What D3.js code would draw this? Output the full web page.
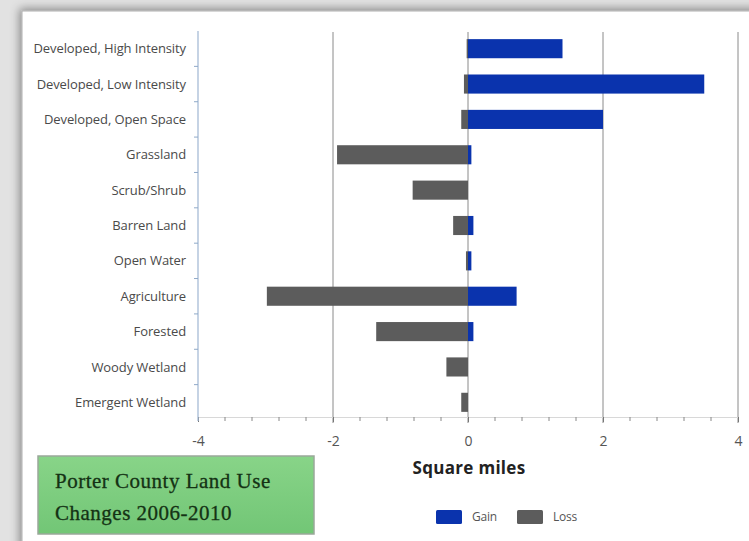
<!DOCTYPE html>
<html>
<head>
<meta charset="utf-8">
<script src="https://cdn.jsdelivr.net/npm/d3@7"></script>
<style>
  html, body { margin: 0; padding: 0; background: #ffffff; }
  svg { display: block; }
</style>
</head>
<body>
<svg id="chart" width="749" height="541"></svg>
<script>
// Land cover classes, top to bottom
const categories = [
  "Developed, High Intensity",
  "Developed, Low Intensity",
  "Developed, Open Space",
  "Grassland",
  "Scrub/Shrub",
  "Barren Land",
  "Open Water",
  "Agriculture",
  "Forested",
  "Woody Wetland",
  "Emergent Wetland"
];
// Square miles gained / lost per class
const gain = [1.4, 3.5, 2.0, 0.05, 0.0, 0.08, 0.05, 0.72, 0.08, 0.0, 0.0];
const loss = [-0.02, -0.06, -0.1, -1.94, -0.82, -0.22, -0.03, -2.98, -1.36, -0.32, -0.1];
const majorTicks = [-4, -2, 0, 2, 4];
const seriesNames = ["Gain", "Loss"];

const W = 749, H = 541;
const svg = d3.select("#chart");
const defs = svg.append("defs");

// page backdrop with a soft shadow around the white panel
const sh = defs.append("filter").attr("id", "shadow")
  .attr("x", "-10%").attr("y", "-10%").attr("width", "120%").attr("height", "120%");
sh.append("feGaussianBlur").attr("in", "SourceAlpha").attr("stdDeviation", 5);
sh.append("feOffset").attr("dx", -2).attr("dy", -2).attr("result", "b");
sh.append("feFlood").attr("flood-color", "#000").attr("flood-opacity", 0.4);
sh.append("feComposite").attr("in2", "b").attr("operator", "in");
const m = sh.append("feMerge");
m.append("feMergeNode");
m.append("feMergeNode").attr("in", "SourceGraphic");

svg.append("rect").attr("width", W).attr("height", H).attr("fill", "#e2e2e2");
svg.append("rect").attr("x", 22).attr("y", 11).attr("width", W).attr("height", H)
  .attr("fill", "#ffffff").attr("stroke", "#b0b0b0").attr("stroke-width", 1)
  .attr("filter", "url(#shadow)");

const x = d3.scaleLinear().domain([-4, 4]).range([198, 738]);
const y = d3.scaleBand().domain(categories).range([31, 420]).paddingInner(0.46).paddingOuter(0.23);
const baseY = 419;

// vertical gridlines
svg.append("g").selectAll("line").data(majorTicks.filter(d => d > -4)).join("line")
  .attr("x1", d => x(d)).attr("x2", d => x(d))
  .attr("y1", 32).attr("y2", baseY + 4)
  .attr("stroke", "#8a8a8a").attr("stroke-width", 1);

// x axis: minor ticks every 0.4, major ticks labelled
const xAxis = d3.axisBottom(x).tickValues(majorTicks).tickSize(5).tickFormat(d => String(d));
const gx = svg.append("g").attr("transform", `translate(0,${baseY - 2})`).call(xAxis);
gx.select(".domain").attr("stroke", "#d8d8d8");
gx.selectAll(".tick line").attr("stroke", "#777");
gx.selectAll(".tick text")
  .attr("y", 19)
  .attr("fill", "#555").attr("font-family", "'Open Sans', sans-serif").attr("font-size", 14);
const minor = d3.range(-4, 4.001, 0.4).filter(v => !majorTicks.some(t => Math.abs(t - v) < 1e-6));
svg.append("g").selectAll("line").data(minor).join("line")
  .attr("x1", d => x(d)).attr("x2", d => x(d))
  .attr("y1", baseY - 2).attr("y2", baseY + 2)
  .attr("stroke", "#888").attr("stroke-width", 1);

// bars: losses to the left of zero, gains to the right
const barColors = { Gain: "#0a33ad", Loss: "#5c5c5c" };
svg.append("g").selectAll("rect").data(categories.map((c, i) => ({ c, v: loss[i] })).filter(d => d.v < 0))
  .join("rect")
  .attr("x", d => x(d.v)).attr("width", d => x(0) - x(d.v))
  .attr("y", d => y(d.c)).attr("height", y.bandwidth())
  .attr("fill", barColors.Loss);
svg.append("g").selectAll("rect").data(categories.map((c, i) => ({ c, v: gain[i] })).filter(d => d.v > 0))
  .join("rect")
  .attr("x", x(0)).attr("width", d => x(d.v) - x(0))
  .attr("y", d => y(d.c)).attr("height", y.bandwidth())
  .attr("fill", barColors.Gain);

// y axis with ticks between the categories
const gy = svg.append("g").attr("transform", "translate(198,0)");
gy.append("line").attr("x1", 0).attr("x2", 0).attr("y1", 31).attr("y2", baseY + 2)
  .attr("stroke", "#9fb6d2").attr("stroke-width", 1.2);
const bounds = d3.range(1, categories.length).map(i => y.range()[0] + i * ((y.range()[1] - y.range()[0]) / categories.length));
gy.selectAll(".yt").data(bounds).join("line")
  .attr("x1", -4).attr("x2", 0).attr("y1", d => d).attr("y2", d => d)
  .attr("stroke", "#8fa9c8").attr("stroke-width", 1);
svg.append("g").selectAll("text").data(categories).join("text")
  .attr("x", 186).attr("y", d => y(d) + y.bandwidth() / 2)
  .attr("dy", "0.35em").attr("text-anchor", "end")
  .attr("fill", "#4a4a4a").attr("font-family", "'Open Sans', sans-serif")
  .attr("font-size", 13).style("letter-spacing", "-0.1px")
  .text(d => d);

// axis title
svg.append("text").attr("x", 469).attr("y", 474).attr("text-anchor", "middle")
  .attr("font-family", "'Open Sans', sans-serif").attr("font-weight", "bold")
  .attr("font-size", 17).attr("fill", "#222").style("letter-spacing", "0.3px")
  .text("Square miles");

// legend
const leg = svg.append("g").attr("transform", "translate(436,510)");
const legX = { Gain: 0, Loss: 81 };
seriesNames.forEach(name => {
  leg.append("rect").attr("x", legX[name]).attr("y", 0).attr("width", 26).attr("height", 14)
    .attr("rx", 1.5).attr("fill", barColors[name]);
  leg.append("text").attr("x", legX[name] + 36).attr("y", 7).attr("dy", "0.35em")
    .attr("font-family", "'Open Sans', sans-serif").attr("font-size", 12)
    .attr("fill", "#555").style("letter-spacing", "-0.2px").text(name);
});

// title box
const grad = defs.append("linearGradient").attr("id", "boxFill").attr("x1", 0).attr("y1", 0).attr("x2", 0).attr("y2", 1);
grad.append("stop").attr("offset", "0%").attr("stop-color", "#88d488");
grad.append("stop").attr("offset", "100%").attr("stop-color", "#72c676");
svg.append("rect").attr("x", 38).attr("y", 456).attr("width", 276).attr("height", 78)
  .attr("fill", "url(#boxFill)").attr("stroke", "#9aa89a").attr("stroke-width", 1.5);
const titleLines = ["Porter County Land Use", "Changes 2006-2010"];
svg.append("g").selectAll("text").data(titleLines).join("text")
  .attr("x", 55).attr("y", (d, i) => 488 + i * 32)
  .attr("font-family", "'Liberation Serif', 'DejaVu Serif', serif")
  .attr("font-size", 21).attr("fill", "#143214")
  .attr("stroke", "#143214").attr("stroke-width", 0.3)
  .style("letter-spacing", "0.5px")
  .text(d => d);
</script>
</body>
</html>
